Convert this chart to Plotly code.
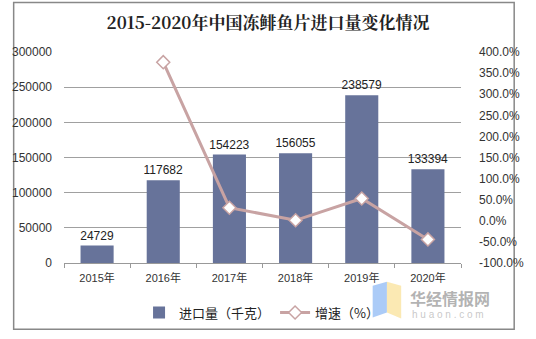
import plotly.graph_objects as go

years = ["2015年", "2016年", "2017年", "2018年", "2019年", "2020年"]
imports = [24729, 117682, 154223, 156055, 238579, 133394]
growth = [None, 375.9, 31.05, 1.19, 52.88, -44.09]
left_ticks = [0, 50000, 100000, 150000, 200000, 250000, 300000]
right_ticks = [-100, -50, 0, 50, 100, 150, 200, 250, 300, 350, 400]

W, H = 536, 339
L, R, T, B = 57, 475, 52, 265

def px(x):
    return (x - L) / (R - L)

def py(y):
    return (B - y) / (B - T)

fig = go.Figure()
fig.add_trace(go.Bar(
    x=years, y=imports, name="进口量（千克）",
    marker=dict(color="#67739A", line=dict(width=0)),
    text=[str(v) for v in imports], textposition="outside",
    constraintext="none",
    textfont=dict(size=12, color="#222", family="Liberation Sans, Arial"),
    cliponaxis=False,
))
fig.add_trace(go.Scatter(
    x=years, y=growth, name="增速（%）", yaxis="y2", mode="lines+markers",
    line=dict(color="#C8A3A3", width=3),
    marker=dict(symbol="diamond", size=10, color="white",
                line=dict(color="#C8A3A3", width=1.5)),
    connectgaps=False,
))

shapes = [
    dict(type="rect", xref="paper", yref="paper",
         x0=px(4), x1=px(531), y0=py(2), y1=py(332),
         line=dict(color="#888", width=1.5), fillcolor="rgba(0,0,0,0)", layer="below"),
    # watermark logo
    dict(type="path", xref="paper", yref="paper",
         path=f"M {px(382)} {py(288)} L {px(397)} {py(284)} L {px(397)} {py(315)} L {px(382)} {py(320)} Z",
         fillcolor="rgba(150,190,245,0.8)", line=dict(width=0)),
    dict(type="path", xref="paper", yref="paper",
         path=f"M {px(397)} {py(284)} L {px(412)} {py(288)} L {px(412)} {py(321)} L {px(397)} {py(315)} Z",
         fillcolor="rgba(250,228,160,0.8)", line=dict(width=0)),
]

annotations = [
    dict(text="<b>华经情报网</b>", xref="paper", yref="paper", x=px(420), y=py(300),
         xanchor="left", yanchor="middle", showarrow=False, borderpad=0,
         font=dict(size=16, color="rgba(165,165,165,0.85)", family="Noto Sans CJK SC")),
    dict(text="h u a o n . c o m", xref="paper", yref="paper", x=px(422), y=py(317),
         xanchor="left", yanchor="middle", showarrow=False, borderpad=0,
         font=dict(size=10, color="rgba(190,190,190,0.85)", family="Liberation Sans, Arial")),
]

fig.update_layout(
    width=W, height=H,
    margin=dict(l=L, r=W - R, t=T, b=H - B),
    paper_bgcolor="white", plot_bgcolor="white",
    title=dict(text="<b>2015-2020年中国冻鲱鱼片进口量变化情况</b>",
               x=268 / W, xanchor="center", y=1 - 23 / H, yanchor="middle",
               font=dict(size=17, color="#222", family="Noto Serif CJK SC, Noto Sans CJK SC")),
    font=dict(family="Liberation Sans, Arial, Noto Sans CJK SC", size=11, color="#333"),
    bargap=0.5,
    showlegend=True,
    legend=dict(orientation="h", x=px(265), xanchor="center", y=py(315), yanchor="middle",
                font=dict(size=13, color="#222", family="Noto Sans CJK SC"),
                itemwidth=30, tracegroupgap=0, bgcolor="rgba(0,0,0,0)"),
    xaxis=dict(type="category", showgrid=False, showline=True, linecolor="#999",
               ticks="outside", tickson="boundaries", ticklen=4, tickcolor="#999",
               ticklabelstandoff=5,
               tickfont=dict(size=11, color="#333", family="Liberation Sans, Noto Sans CJK SC")),
    yaxis=dict(range=[0, 300000], tickvals=left_ticks, ticktext=[str(v) for v in left_ticks],
               showgrid=True, gridcolor="#A0A0A0",
               gridwidth=1, zeroline=False, showline=False, ticks="",
               ticklabelstandoff=11,
               tickfont=dict(size=12, color="#333", family="Liberation Sans, Arial")),
    yaxis2=dict(range=[-100, 400], tickvals=right_ticks, overlaying="y", side="right",
                showgrid=False, zeroline=False, showline=False, ticks="",
                ticktext=[f"{v:.1f}%" for v in right_ticks],
                ticklabelstandoff=17,
                tickfont=dict(size=12, color="#333", family="Liberation Sans, Arial")),
    shapes=shapes,
    annotations=annotations,
)

fig.write_html("out.html")
